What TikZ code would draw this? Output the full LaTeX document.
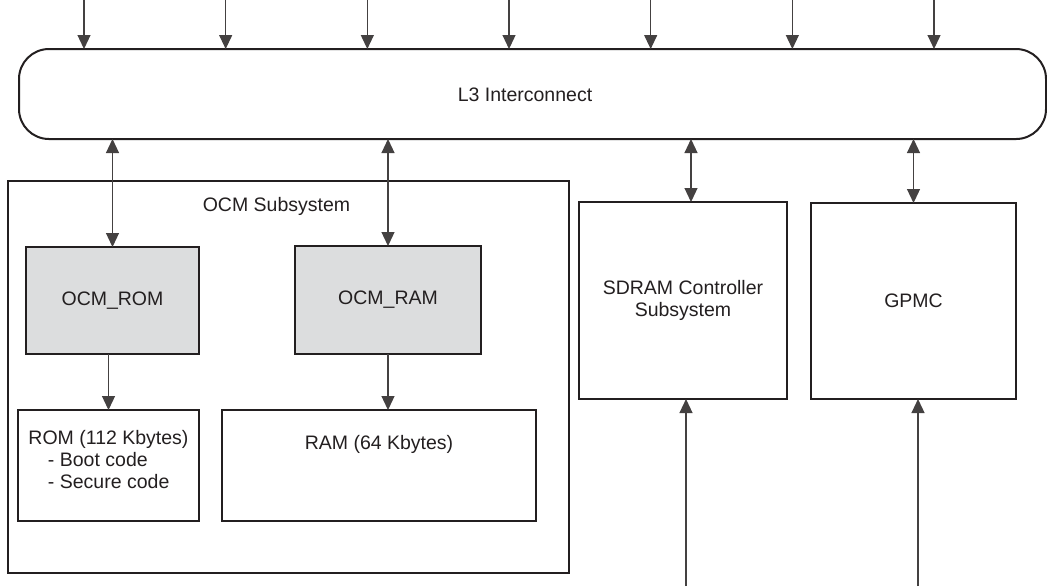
\documentclass[tikz,border=0pt]{standalone}
\usepackage{fontspec}
\setmainfont{Liberation Sans}
\usetikzlibrary{arrows.meta,positioning}
\definecolor{ocmgray}{HTML}{DCDDDE}
\definecolor{inkdark}{HTML}{231F20}

\begin{document}
\begin{tikzpicture}[
    x=0.5pt, y=-0.5pt,
    font=\fontsize{9.75}{11}\selectfont, text=inkdark,
    blk/.style={draw=inkdark, line width=1pt, inner sep=0pt, outer sep=0pt, align=center},
    mem/.style={blk, fill=ocmgray},
    lbl/.style={inner sep=0pt, align=left},
    link/.style={draw=inkdark!85, line width=0.6pt, -{Triangle[length=7pt,width=6.5pt]}},
    dlink/.style={link, {Triangle[length=7pt,width=6.5pt]}-{Triangle[length=7pt,width=6.5pt]}},
]
  \useasboundingbox (0,0) rectangle (1047,586);

  % interconnect bar
  \node[blk, rounded corners=15pt, minimum width=513.5pt, minimum height=45pt] (l3) at (532.5,94) {};
  \node[lbl] (l3txt) at (525,95) {L3 Interconnect};

  % on-chip memory subsystem
  \node[blk, minimum width=280.5pt, minimum height=196pt] (ocm) at (288.5,377) {};
  \node[lbl] (ocmtxt) at (276.5,206) {OCM Subsystem};

  \node[mem, minimum width=86.5pt, minimum height=53.5pt] (ocmrom) at (112.5,300.5) {OCM\_ROM};
  \node[mem, minimum width=93pt, minimum height=54pt] (ocmram) at (388,300) {OCM\_RAM};

  \node[blk, minimum width=90.5pt, minimum height=55.5pt] (rom) at (108.5,465.5) {};
  \node[lbl, below=10pt of rom.north] (romtxt)
    {ROM (112 Kbytes)\\\hspace*{1em}- Boot code\\\hspace*{1em}- Secure code};
  \node[blk, minimum width=157pt, minimum height=55.5pt] (ram) at (379,465.5) {};
  \node[lbl, below=12.5pt of ram.north] (ramtxt) {RAM (64 Kbytes)};

  % external memory side
  \node[blk, minimum width=104pt, minimum height=98.5pt] (sdram) at (683,300.5)
    {SDRAM Controller\\Subsystem};
  \node[blk, minimum width=102.5pt, minimum height=98pt] (gpmc) at (913.5,301) {GPMC};

  % initiators into L3
  \foreach \i in {0,...,6} {
    \coordinate (in\i) at (84+141.67*\i,0);
    \draw[link] (in\i) -- (in\i |- l3.north);
  }

  % L3 targets
  \coordinate (sdtop) at ([xshift=4pt]sdram.north);
  \draw[dlink] (ocmrom.north) -- (ocmrom.north |- l3.south);
  \draw[dlink] (ocmram.north) -- (ocmram.north |- l3.south);
  \draw[dlink] (sdtop) -- (sdtop |- l3.south);
  \draw[dlink] (gpmc.north) -- (gpmc.north |- l3.south);

  \draw[link] (ocmrom.south -| rom.north) -- (rom.north);
  \draw[link] (ocmram.south) -- (ocmram.south |- ram.north);

  % external pins
  \coordinate (sdin) at (686,586);
  \coordinate (gpin) at (918,586);
  \draw[link] (sdin) -- (sdin |- sdram.south);
  \draw[link] (gpin) -- (gpin |- gpmc.south);
\end{tikzpicture}
\end{document}
